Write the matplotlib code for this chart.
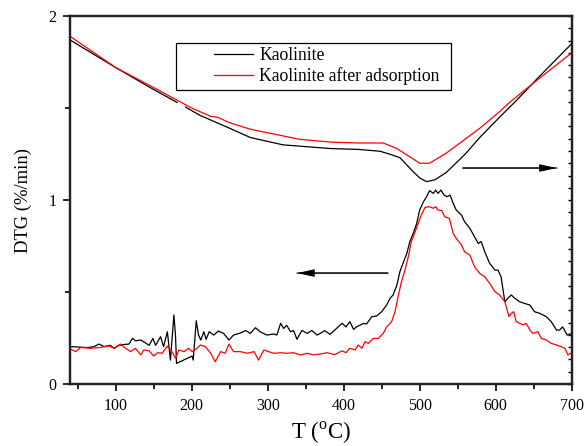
import numpy as np
import matplotlib
matplotlib.use('Agg')
import matplotlib.pyplot as plt
from matplotlib.ticker import MultipleLocator
from matplotlib.patches import Rectangle

plt.rcParams['font.family'] = ['Liberation Serif', 'DejaVu Serif']
plt.rcParams['mathtext.fontset'] = 'custom'
plt.rcParams['mathtext.rm'] = 'Liberation Serif'

# ── Data ─────────────────────────────────────────────────────────────────────
# DTG, Kaolinite (black, lower curve)
dtg_k_x = [40, 43, 54, 63, 71.5, 78, 85, 93, 98, 104, 111, 117.5, 122, 126, 133,
           139, 144, 149, 152.5, 159, 163, 168, 172, 176.6, 178.8, 180, 200.6,
           202, 206, 209, 212, 216, 219, 223, 229, 235, 242, 249, 255, 264, 271,
           277, 284, 290, 299, 308, 312, 317, 321, 325, 330, 334, 338.5, 345,
           352, 358, 365, 369, 375, 382, 390, 398, 403, 408, 413, 417, 426, 430,
           437, 443, 450, 456.5, 461, 465, 470, 474, 478, 483, 487, 491.5, 496,
           500, 505, 509, 513, 518, 521, 524, 528, 532, 536, 540, 544, 548, 555,
           559, 566, 572, 577, 581, 585.5, 592, 599, 603, 607, 612, 616, 620.5,
           625, 631.5, 638, 645, 651, 658, 666.5, 673, 680, 684, 688, 694, 700]
dtg_k_y = [0.20, 0.203, 0.20, 0.198, 0.203, 0.217, 0.203, 0.21, 0.194, 0.21, 0.215,
           0.217, 0.248, 0.235, 0.239, 0.224, 0.21, 0.248, 0.21, 0.257, 0.203,
           0.284, 0.130, 0.375, 0.257, 0.112, 0.152, 0.130, 0.344, 0.266, 0.239,
           0.284, 0.243, 0.284, 0.266, 0.288, 0.275, 0.239, 0.266, 0.277, 0.291,
           0.275, 0.306, 0.284, 0.266, 0.272, 0.266, 0.33, 0.302, 0.319, 0.284,
           0.291, 0.243, 0.291, 0.275, 0.291, 0.266, 0.275, 0.29, 0.27, 0.30,
           0.33, 0.31, 0.339, 0.297, 0.311, 0.329, 0.326, 0.366, 0.369, 0.393,
           0.429, 0.466, 0.484, 0.538, 0.612, 0.656, 0.710, 0.774, 0.819, 0.873,
           0.946, 0.991, 1.018, 1.051, 1.036, 1.054, 1.036, 1.054, 1.027, 1.018,
           1.027, 0.982, 0.946, 0.918, 0.882, 0.846, 0.801, 0.764, 0.774, 0.719,
           0.656, 0.619, 0.619, 0.583, 0.447, 0.466, 0.484, 0.466, 0.447, 0.438,
           0.429, 0.393, 0.384, 0.366, 0.339, 0.293, 0.293, 0.311, 0.266, 0.275]

# DTG, Kaolinite after adsorption (red, lower curve)
dtg_a_x = [40, 43, 47.5, 54, 67, 80, 91, 98, 106.5, 113, 119.6, 126, 133, 137, 144,
           150, 155, 161, 168, 174, 179, 183, 190, 196, 200.6, 207, 211.6, 218,
           225, 231, 238, 244, 249, 255, 264, 273, 282, 288, 295, 301, 308, 317,
           325, 334, 343, 352, 360.5, 369, 378, 388, 398, 403, 408, 415, 419,
           424, 428, 432.5, 439, 445.6, 452, 456.5, 463, 467.5, 472, 476, 480.6,
           485, 489, 494, 498, 502, 507, 513, 518, 521, 524, 529, 533, 539, 544,
           548, 555, 559, 566, 572, 579, 585.5, 592, 599, 605, 612, 617.5, 620.5,
           623.6, 627, 631.5, 636, 640, 645, 649, 655.5, 660, 666.5, 673, 680,
           686, 691, 695, 700]
dtg_a_y = [0.19, 0.185, 0.176, 0.199, 0.194, 0.199, 0.208, 0.194, 0.217, 0.194,
           0.176, 0.194, 0.158, 0.185, 0.180, 0.152, 0.170, 0.167, 0.206, 0.176,
           0.139, 0.185, 0.176, 0.194, 0.176, 0.194, 0.212, 0.203, 0.167, 0.121,
           0.176, 0.167, 0.217, 0.176, 0.176, 0.167, 0.176, 0.130, 0.185, 0.176,
           0.167, 0.170, 0.167, 0.170, 0.158, 0.167, 0.158, 0.163, 0.17, 0.16,
           0.18, 0.17, 0.194, 0.185, 0.212, 0.194, 0.230, 0.221, 0.248, 0.248,
           0.275, 0.311, 0.339, 0.393, 0.484, 0.556, 0.619, 0.692, 0.774, 0.828,
           0.873, 0.918, 0.960, 0.964, 0.955, 0.964, 0.946, 0.942, 0.909, 0.900,
           0.819, 0.792, 0.755, 0.719, 0.701, 0.638, 0.601, 0.583, 0.547, 0.502,
           0.484, 0.447, 0.366, 0.384, 0.393, 0.339, 0.330, 0.321, 0.330, 0.293,
           0.275, 0.284, 0.248, 0.239, 0.221, 0.212, 0.203, 0.194, 0.158, 0.170]

# TG-type curves (upper, right-hand axis, same scale)
tg_k_x = [40, 100, 146, 181, np.nan, 192, 211, 250, 277, 320, 382, 420, 448, 460,
          474, 490, 500, 509, 520, 535, 560, 579, 605, 627, 657, 700]
tg_k_y = [1.87, 1.72, 1.61, 1.53, np.nan, 1.505, 1.46, 1.39, 1.34, 1.30, 1.28,
          1.275, 1.265, 1.25, 1.23, 1.16, 1.12, 1.10, 1.11, 1.15, 1.25, 1.34,
          1.45, 1.54, 1.67, 1.85]
tg_a_x = [40, 100, 146, 200, 225, 234, 250, 277, 342, 382, 420, 452, 470, 485,
          500, 513, 535, 579, 605, 618, 657, 700]
tg_a_y = [1.89, 1.72, 1.62, 1.50, 1.455, 1.45, 1.42, 1.385, 1.33, 1.315, 1.31,
          1.31, 1.28, 1.24, 1.20, 1.20, 1.255, 1.39, 1.48, 1.53, 1.66, 1.80]

labels = ['Kaolinite', 'Kaolinite after adsorption']

# ── Plot ──────────────────────────────────────────────────────────────────────
fig = plt.figure(figsize=(5.84, 4.46), dpi=100)
ax = fig.add_axes([0.12, 0.139, 0.859, 0.825])
ax2 = ax.twinx()

ax.plot(dtg_k_x, dtg_k_y, color='black', lw=0.9)
ax.plot(dtg_a_x, dtg_a_y, color='red', lw=0.9)
l1, = ax2.plot(tg_k_x, tg_k_y, color='black', lw=0.9)
l2, = ax2.plot(tg_a_x, tg_a_y, color='red', lw=0.9)

for a in (ax, ax2):
    a.set_xlim(40, 700)
    a.set_ylim(0, 2)
    for s in a.spines.values():
        s.set_linewidth(1.6)
        s.set_color('#222222')

ax.xaxis.set_major_locator(MultipleLocator(100))
ax.xaxis.set_minor_locator(MultipleLocator(50))
ax.yaxis.set_major_locator(MultipleLocator(1))
ax.yaxis.set_minor_locator(MultipleLocator(0.5))
ax.tick_params(which='both', direction='out', labelsize=11.5, width=1.2)
ax.tick_params(which='major', length=5, pad=5)
ax.tick_params(which='minor', length=3.5)

ax2.yaxis.set_major_locator(MultipleLocator(2 / 30))
ax2.tick_params(axis='y', direction='in', length=3, width=1.0, labelright=False)

ax.set_xlabel(r'T ($^{\mathrm{o}}$C)', fontsize=16.5, labelpad=4)
ax.set_ylabel('DTG (%/min)', fontsize=13.4, labelpad=12)

# legend box drawn separately: the original has a wide left margin
ax2.add_patch(Rectangle((0.211, 0.799), 0.548, 0.128, transform=ax2.transAxes,
                        fill=False, ec='black', lw=0.9, zorder=5))
leg = ax2.legend([l1, l2], labels, loc='upper left', bbox_to_anchor=(0.287, 0.915),
                 fontsize=12.7, frameon=False, handlelength=2.2,
                 handletextpad=0.35, borderpad=0, labelspacing=0.15,
                 borderaxespad=0)

# arrows: grey shaft, solid black head
shaft_kw = dict(arrowstyle='-', color='#555555', lw=1.4, shrinkA=0, shrinkB=0)
head_kw = dict(arrowstyle='-|>,head_length=0.9,head_width=0.2', color='black',
               lw=0.6, mutation_scale=12, shrinkA=0, shrinkB=0)
for x_tail, x_head, y in [(458, 339, 0.603), (557, 680, 1.174)]:
    ax.annotate('', xy=(x_head, y), xytext=(x_tail, y), arrowprops=shaft_kw)
    ax.annotate('', xy=(x_head, y), xytext=(x_tail, y), arrowprops=head_kw)

fig.savefig('out.png', dpi=100)
